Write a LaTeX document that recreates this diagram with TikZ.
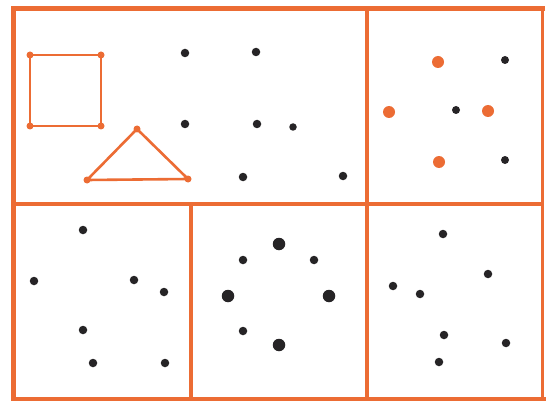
\documentclass[tikz,border=0pt]{standalone}
\begin{document}
\begin{tikzpicture}[x=1pt,y=-1pt,
  every node/.style={inner sep=0pt,outer sep=0pt},
  dot/.style={circle,fill=ink,minimum size=8.5pt},
  bigdot/.style={circle,fill=ink,minimum size=12.5pt},
  odot/.style={circle,fill=frame,minimum size=12pt},
  vtx/.style={circle,fill=frame,minimum size=7pt},
  edge/.style={draw=frame,line width=2.6pt},
  outer/.style={draw=frame,line width=5pt},
  inner/.style={draw=frame,line width=3.5pt}]
\definecolor{frame}{RGB}{236,108,52}
\definecolor{ink}{RGB}{38,36,38}
\useasboundingbox (0,0) rectangle (546,401);
\fill[white] (0,0) rectangle (546,401);
% dividers
\draw[inner] (13,204) -- (542,204);
\draw[inner] (367,9) -- (367,399);
\draw[inner] (191,204) -- (191,399);
% outer frame
\draw[outer,line cap=rect] (13.5,9) -- (542,9);
\draw[draw=frame,line width=5.5pt] (13.5,9) -- (13.5,401);
\draw[outer] (11,399) -- (546,399);
\draw[draw=frame,line width=3pt] (542,9) -- (542,401);
% square
\node[vtx] (s1) at (30,55) {};
\node[vtx] (s2) at (101,55) {};
\node[vtx] (s3) at (101,126) {};
\node[vtx] (s4) at (30,126) {};
\draw[edge] (s1.center) -- (s2.center) -- (s3.center) -- (s4.center) -- cycle;
% triangle
\node[vtx] (t1) at (137,129) {};
\node[vtx] (t2) at (188,179) {};
\node[vtx] (t3) at (87,180) {};
\draw[edge,line join=round] (t1.center) -- (t2.center) -- (t3.center) -- cycle;
% top-left dots
\node[dot] (a1) at (185,53) {};
\node[dot] (a2) at (256,52) {};
\node[dot] (a3) at (185,124) {};
\node[dot] (a4) at (257,124) {};
\node[dot,minimum size=7.5pt] (a5) at (293,127) {};
\node[dot] (a6) at (243,177) {};
\node[dot] (a7) at (343,176) {};
% top-right
\node[odot] (b1) at (438,62) {};
\node[odot] (b2) at (389,112) {};
\node[odot] (b3) at (488,111) {};
\node[odot] (b4) at (439,162) {};
\node[dot,minimum size=8pt] (b5) at (505,60) {};
\node[dot,minimum size=8pt] (b6) at (456,110) {};
\node[dot,minimum size=8pt] (b7) at (505,160) {};
% bottom-left
\node[dot] (c1) at (83,230) {};
\node[dot] (c2) at (34,281) {};
\node[dot] (c3) at (134,280) {};
\node[dot] (c4) at (164,292) {};
\node[dot] (c5) at (83,330) {};
\node[dot] (c6) at (93,363) {};
\node[dot] (c7) at (165,363) {};
% bottom-middle
\node[bigdot] (d1) at (279,244) {};
\node[bigdot] (d2) at (228,296) {};
\node[bigdot] (d3) at (329,296) {};
\node[bigdot] (d4) at (279,345) {};
\node[dot] (d5) at (243,260) {};
\node[dot] (d6) at (314,260) {};
\node[dot] (d7) at (243,331) {};
% bottom-right
\node[dot] (e1) at (443,234) {};
\node[dot] (e2) at (488,274) {};
\node[dot] (e3) at (393,286) {};
\node[dot] (e4) at (420,294) {};
\node[dot] (e5) at (444,335) {};
\node[dot] (e6) at (506,343) {};
\node[dot] (e7) at (439,362) {};
\end{tikzpicture}
\end{document}
